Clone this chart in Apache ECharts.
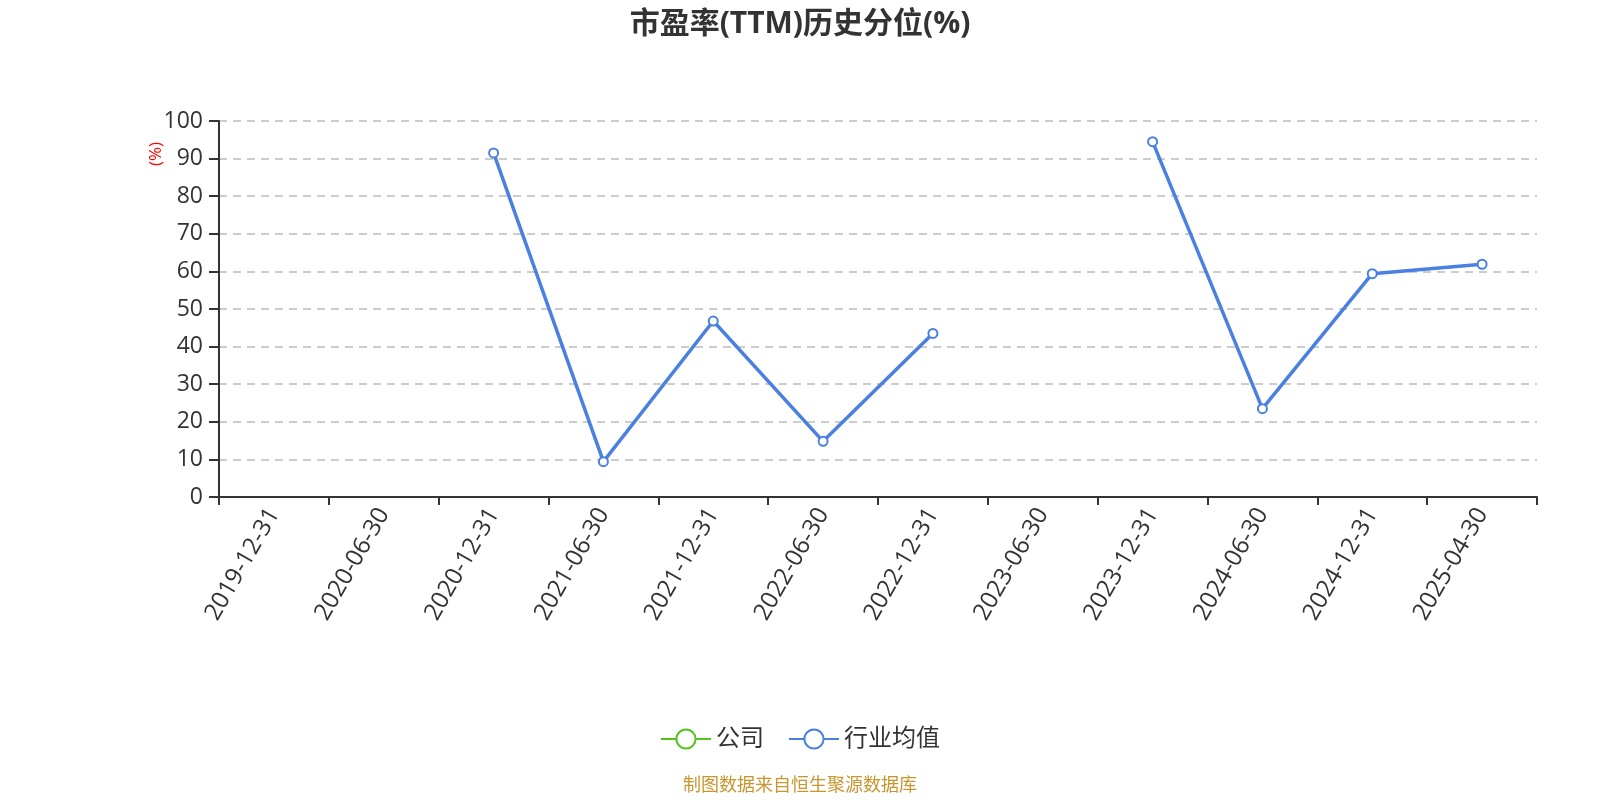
<!DOCTYPE html>
<html>
<head>
<meta charset="utf-8">
<script src="https://cdn.jsdelivr.net/npm/echarts@6/dist/echarts.min.js"></script>
<style>
html,body{margin:0;padding:0;background:#fff;}
#main{width:1600px;height:800px;}
</style>
</head>
<body>
<div id="main"></div>
<script>
var categories = ['2019-12-31','2020-06-30','2020-12-31','2021-06-30','2021-12-31','2022-06-30','2022-12-31','2023-06-30','2023-12-31','2024-06-30','2024-12-31','2025-04-30'];
var companyValues = [null,null,null,null,null,null,null,null,null,null,null,null];
var industryValues = [null,null,91.5,9.4,46.8,14.8,43.5,null,94.5,23.5,59.4,61.9];
var yTicks = [0,10,20,30,40,50,60,70,80,90,100];
var seriesNames = ['公司','行业均值'];
var titleText = '市盈率(TTM)历史分位(%)';
var sourceText = '制图数据来自恒生聚源数据库';
var unitText = '(%)';

var font = '"Open Sans", "Noto Sans CJK SC", sans-serif';
var chart = echarts.init(document.getElementById('main'), null, {renderer:'canvas'});
chart.setOption({
  backgroundColor:'#fff',
  animation:false,
  title:{
    text:titleText,
    left:'center',
    top:4,
    textStyle:{fontSize:30,fontWeight:'bold',color:'#333',fontFamily:font}
  },
  legend:{
    data:seriesNames,
    left:'center',
    top:722,
    itemWidth:50,
    itemHeight:24,
    itemGap:24,
    textStyle:{fontSize:24,color:'#333',fontFamily:font}
  },
  graphic:[
    {type:'text',left:'center',top:777,style:{text:sourceText,fill:'#c9952f',font:'18px '+font}},
    {type:'text',x:148,y:166,rotation:Math.PI/2,style:{text:unitText,fill:'#ff0000',font:'17px '+font}}
  ],
  grid:{left:219,right:63,top:121,bottom:303,containLabel:false},
  xAxis:{
    type:'category',
    data:categories,
    boundaryGap:true,
    axisLine:{lineStyle:{color:'#333',width:2}},
    axisTick:{show:true,alignWithLabel:false,length:8,lineStyle:{color:'#333',width:2}},
    axisLabel:{rotate:60,fontSize:24,color:'#333',margin:13,interval:0,fontFamily:font}
  },
  yAxis:{
    type:'value',
    min:yTicks[0],
    max:yTicks[yTicks.length-1],
    interval:yTicks[1]-yTicks[0],
    axisLine:{show:true,lineStyle:{color:'#333',width:2}},
    axisTick:{show:true,length:10,lineStyle:{color:'#333',width:2}},
    axisLabel:{fontSize:23,color:'#333',margin:16,fontFamily:font},
    splitLine:{show:true,lineStyle:{color:'#ccc',type:[8,6],width:2}}
  },
  series:[
    {name:seriesNames[0],type:'line',data:companyValues,symbol:'emptyCircle',symbolSize:9,
     itemStyle:{color:'#52c41a'},lineStyle:{color:'#52c41a',width:3}},
    {name:seriesNames[1],type:'line',data:industryValues,symbol:'emptyCircle',symbolSize:9,connectNulls:false,
     itemStyle:{color:'#4a80e2',borderWidth:2},lineStyle:{color:'#4a80e2',width:3.5}}
  ]
});
</script>
</body>
</html>
